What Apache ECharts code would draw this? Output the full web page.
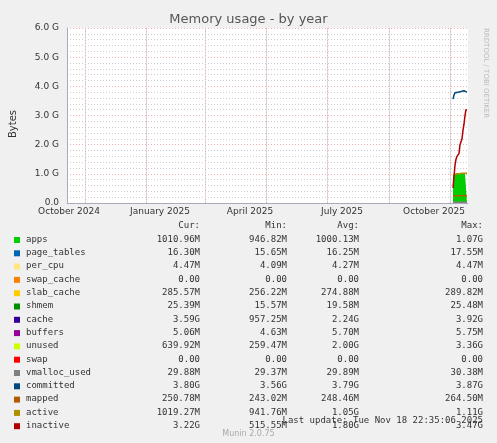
<!DOCTYPE html>
<html><head><meta charset="utf-8">
<script src="https://cdn.jsdelivr.net/npm/echarts@6/dist/echarts.min.js"></script>
<style>html,body{margin:0;padding:0;background:#F0F0F0}#c{width:497px;height:443px}</style>
</head><body><div id="c"></div>
<script>
const days = ['2025-11-04','2025-11-05','2025-11-06','2025-11-07','2025-11-08','2025-11-09','2025-11-10','2025-11-11','2025-11-12','2025-11-13','2025-11-14','2025-11-15','2025-11-16','2025-11-17','2025-11-18'];
const G = 1e9;
// stacked areas (GB)
const apps      = [0.95,0.98,1.0,1.0,1.01,1.0,1.0,1.0,1.01,1.0,1.0,1.01,1.0,1.01,1.01];
const pageTables= [0.016,0.016,0.016,0.016,0.016,0.016,0.016,0.016,0.016,0.016,0.016,0.016,0.016,0.016,0.016];
const perCpu    = [0.004,0.004,0.004,0.004,0.004,0.004,0.004,0.004,0.004,0.004,0.004,0.004,0.004,0.004,0.004];
const swapCache = [0,0,0,0,0,0,0,0,0,0,0,0,0,0,0];
const slabCache = [0.26,0.27,0.27,0.28,0.28,0.28,0.28,0.28,0.28,0.28,0.29,0.29,0.29,0.28,0.29];
const shmem     = [0.016,0.018,0.02,0.02,0.02,0.02,0.02,0.02,0.02,0.02,0.02,0.02,0.025,0.025,0.025];
const cache     = [0.96,1.0,1.2,1.5,1.8,2.0,2.1,2.2,2.3,2.5,2.8,3.0,3.3,3.5,3.59];
const buffers   = [0.005,0.005,0.006,0.006,0.006,0.006,0.006,0.006,0.006,0.006,0.006,0.006,0.005,0.005,0.005];
const unused    = [3.21,3.17,2.97,2.67,2.37,2.17,2.07,1.97,1.86,1.67,1.36,1.16,0.87,0.67,0.64];
const swap      = [0,0,0,0,0,0,0,0,0,0,0,0,0,0,0];
// lines (GB)
const vmalloc   = [0.03,0.03,0.03,0.03,0.03,0.03,0.03,0.03,0.03,0.03,0.03,0.03,0.03,0.03,0.03];
const committed = [3.56,3.7,3.78,3.8,3.8,3.79,3.8,3.82,3.8,3.8,3.85,3.82,3.8,3.8,3.8];
const mapped    = [0.24,0.25,0.25,0.25,0.25,0.25,0.25,0.25,0.25,0.25,0.25,0.26,0.25,0.25,0.25];
const active    = [0.94,0.98,1.0,1.02,1.02,1.0,1.01,1.02,1.02,1.03,1.02,1.02,1.03,1.02,1.02];
const inactive  = [0.52,0.9,1.3,1.5,1.6,1.6,1.7,2.0,2.1,2.2,2.5,2.7,3.0,3.2,3.22];

const yTicks = ['0.0','1.0 G','2.0 G','3.0 G','4.0 G','5.0 G','6.0 G'];
const xLabelDates = ['2024-10-16','2025-01-15','2025-04-15','2025-07-16','2025-10-16'];
const xLabelText = ['October 2024','January 2025','April 2025','July 2025','October 2025'];
const gridDates = ['2024-11-01','2025-01-01','2025-03-01','2025-05-01','2025-07-01','2025-09-01','2025-11-01'];

const legendNames = ['apps','page_tables','per_cpu','swap_cache','slab_cache','shmem','cache','buffers','unused','swap','vmalloc_used','committed','mapped','active','inactive'];
const legendColors = ['#00CC00','#0066B3','#FFE680','#FF8000','#FFCC00','#008F00','#330099','#990099','#CCFF00','#FF0000','#808080','#00487D','#B35A00','#B38F00','#B30000'];
const curCol = ['1010.96M','16.30M','4.47M','0.00','285.57M','25.39M','3.59G','5.06M','639.92M','0.00','29.88M','3.80G','250.78M','1019.27M','3.22G'];
const minCol = ['946.82M','15.65M','4.09M','0.00','256.22M','15.57M','957.25M','4.63M','259.47M','0.00','29.37M','3.56G','243.02M','941.76M','515.55M'];
const avgCol = ['1000.13M','16.25M','4.27M','0.00','274.88M','19.58M','2.24G','5.70M','2.00G','0.00','29.89M','3.79G','248.46M','1.05G','1.80G'];
const maxCol = ['1.07G','17.55M','4.47M','0.00','289.82M','25.48M','3.92G','5.75M','3.36G','0.00','30.38M','3.87G','264.50M','1.11G','3.47G'];

const stacked = [apps,pageTables,perCpu,swapCache,slabCache,shmem,cache,buffers,unused,swap];
const lines = [vmalloc,committed,mapped,active,inactive];
const ts = d => +new Date(d + 'T00:00:00Z');
const pair = arr => days.map((d,i) => [ts(d), arr[i]*G]);
const xMin = ts('2024-10-14'), xMax = ts('2025-11-19');

const series = [];
stacked.forEach((arr,i) => series.push({
  name: legendNames[i], type:'line', stack:'mem', step:'end', symbol:'none',
  data: pair(arr), lineStyle:{width:0}, areaStyle:{color:legendColors[i], opacity:1},
  itemStyle:{color:legendColors[i]}
}));
lines.forEach((arr,i) => series.push({
  name: legendNames[10+i], type:'line', step:'end', symbol:'none', data: pair(arr),
  lineStyle:{width:1.5, color:legendColors[10+i]}
}));

const mono = 'DejaVu Sans Mono';
const gfx = [];
const cols = [[200,'Cur:'],[287,'Min:'],[359,'Avg:'],[483,'Max:']];
cols.forEach(c => gfx.push({type:'text', right:497-c[0], top:221, style:{text:c[1], font:'9px '+mono, fill:'#333'}}));
legendNames.forEach((n,i) => {
  const y = 235 + i*13.3;
  gfx.push({type:'rect', left:14, top:y+2, shape:{width:6,height:6}, style:{fill:legendColors[i]}});
  gfx.push({type:'text', left:26, top:y, style:{text:n, font:'9px '+mono, fill:'#333'}});
  [curCol,minCol,avgCol,maxCol].forEach((col,j) => gfx.push({type:'text', right:497-cols[j][0], top:y, style:{text:col[i], font:'9px '+mono, fill:'#333'}}));
});
gfx.push({type:'text', right:14, top:416, style:{text:'Last update: Tue Nov 18 22:35:06 2025', font:'9px '+mono, fill:'#333'}});
gfx.push({type:'text', left:'center', top:430, style:{text:'Munin 2.0.75', font:'8px DejaVu Sans', fill:'#aaa'}});
gfx.push({type:'text', left:8, top:110, rotation:Math.PI/2, style:{text:'Bytes', font:'10px DejaVu Sans', fill:'#333'}});
gfx.push({type:'text', left:482, top:28, rotation:-Math.PI/2, style:{text:'RRDTOOL / TOBI OETIKER', font:'7px DejaVu Sans', fill:'#bbb'}});

const chart = echarts.init(document.getElementById('c'));
chart.setOption({
  backgroundColor:'#F0F0F0', animation:false,
  title:{text:'Memory usage - by year', left:'center', top:8, textStyle:{fontFamily:'DejaVu Sans', fontSize:13, fontWeight:'normal', color:'#555'}},
  grid:{left:67, right:29, top:28, bottom:240, backgroundColor:'#fff', show:true, borderWidth:0},
  xAxis:[{type:'value', min:xMin, max:xMax,
    axisLine:{lineStyle:{color:'#aab'}}, axisTick:{show:false},
    axisLabel:{customValues:xLabelDates.map(ts), formatter:(v)=>{const k=xLabelDates.findIndex(d=>Math.abs(ts(d)-v)<864e5);return k>=0?xLabelText[k]:'';}, fontFamily:'DejaVu Sans', fontSize:9, color:'#333', margin:4, hideOverlap:false},
    splitLine:{show:false}},
   {type:'value', min:xMin, max:xMax, position:'bottom', axisLine:{show:false}, axisLabel:{show:false},
    axisTick:{show:true, customValues:gridDates.map(ts), length:-175, lineStyle:{color:'#f0b0b0', type:[1,2]}}}],
  yAxis:{type:'value', min:0, max:6*G, interval:G,
    axisLabel:{formatter:(v)=>yTicks[Math.round(v/G)], fontFamily:'DejaVu Sans', fontSize:9, color:'#333'},
    axisLine:{show:true, lineStyle:{color:'#aab'}}, axisTick:{show:false},
    splitLine:{lineStyle:{color:'#f0b0b0', type:[1,2]}},
    minorTick:{show:false, splitNumber:5}, minorSplitLine:{show:true, lineStyle:{color:'#ccc', type:[1,2]}}},
  series, graphic: gfx
});
</script></body></html>
